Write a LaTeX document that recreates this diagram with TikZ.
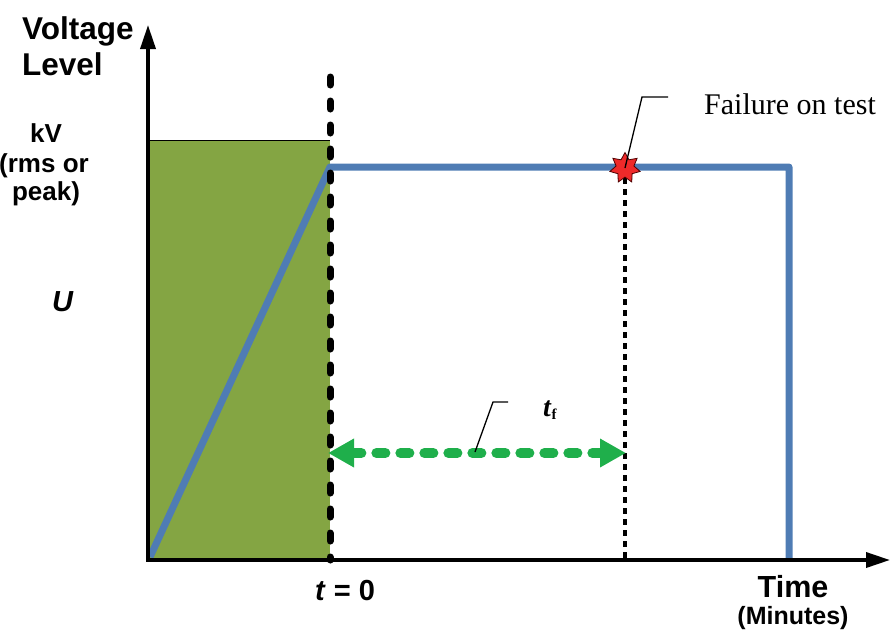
\documentclass[tikz,border=0pt]{standalone}
\usepackage{fontspec}
\setmainfont{Liberation Serif}
\setsansfont{Liberation Sans}
\usetikzlibrary{arrows.meta,shapes.geometric}
\definecolor{boxgreen}{HTML}{84A543}
\definecolor{lineblue}{HTML}{4F7CB4}
\definecolor{arrgreen}{HTML}{1FAF4B}
\definecolor{starred}{HTML}{EE2A2A}
\tikzset{
  axis/.style={line width=3.5pt,-{Triangle[length=24pt,width=15pt]}},
  profile/.style={line width=7pt,lineblue,line join=round},
  zeroline/.style={line width=7pt,line cap=round,dash pattern=on 8pt off 16pt},
  failline/.style={line width=4.5pt,dash pattern=on 6pt off 5pt},
  durarrow/.style={line width=10pt,arrgreen,line cap=round,dash pattern=on 9pt off 15pt,
    {Triangle[length=26pt,width=27pt]}-{Triangle[length=26pt,width=27pt]}},
  leader/.style={line width=1.3pt},
  lbl/.style={inner sep=0pt},
}
\begin{document}
\begin{tikzpicture}[x=1pt,y=-1pt]
\useasboundingbox (0,0) rectangle (890,632);
% green region
\fill[boxgreen] (148,140) rectangle (330,560);
\draw[line width=1pt] (148,140) -- (330,140);
% profile
\coordinate (p0) at (150,557);
\coordinate (p1) at (330,167);
\coordinate (p2) at (789,167);
\coordinate (p3) at (789,560);
\draw[profile] (p0) -- (p1) -- (p2) -- (p3);
% t=0 line
\coordinate (z0) at (330,77);
\coordinate (z1) at (330,560);
\draw[zeroline] (z0) -- (z1);
% failure line
\coordinate (f0) at (625,178);
\coordinate (f1) at (625,560);
\draw[failline] (f0) -- (f1);
% axes
\coordinate (o) at (148,560);
\coordinate (ytop) at (148,25);
\coordinate (xend) at (890,560);
\draw[axis] (o) -- (ytop);
\draw[axis] ([xshift=-1.75pt]o) -- (xend);
% duration arrow
\coordinate (d0) at (328,453);
\coordinate (d1) at (626,453);
\draw[durarrow] (d0) -- (d1);
% star
\node[star,star points=7,star point ratio=1.7,minimum size=31pt,inner sep=0pt,
  fill=starred,draw=black!70!red,line width=0.8pt] (star) at (625,168) {};
% leaders
\coordinate (la) at (642,97);
\coordinate (lb) at (668,97);
\draw[leader] (star.center) -- (la) -- (lb);
\coordinate (ta) at (475,452);
\coordinate (tb) at (493,402);
\coordinate (tc) at (508,402);
\draw[leader] (ta) -- (tb) -- (tc);
% texts
\node[lbl,anchor=base west,font=\fontsize{30}{34}\selectfont] (fail) at (704,114) {Failure on test};
\node[lbl,anchor=base west,font=\rmfamily\bfseries\fontsize{28}{28}\selectfont] (tf) at (543,416) {\textit{t}\raisebox{-3pt}{\fontsize{15}{15}\selectfont f}};
\node[lbl,anchor=base west,font=\sffamily\bfseries\fontsize{31.5}{34}\selectfont] (vl1) at (22,39) {Voltage};
\node[lbl,anchor=base west,font=\sffamily\bfseries\fontsize{31.5}{34}\selectfont] (vl2) at (22,75) {Level};
\node[lbl,anchor=base,font=\sffamily\bfseries\fontsize{26}{28}\selectfont] (kv1) at (46,142) {kV};
\node[lbl,anchor=base,font=\sffamily\bfseries\fontsize{26}{28}\selectfont] (kv2) at (44,172) {(rms or};
\node[lbl,anchor=base,font=\sffamily\bfseries\fontsize{26}{28}\selectfont] (kv3) at (46,200) {peak)};
\node[lbl,anchor=base west,font=\sffamily\bfseries\itshape\fontsize{29}{30}\selectfont] (u) at (52,311) {U};
\node[lbl,anchor=base west,font=\sffamily\bfseries\fontsize{29}{32}\selectfont] (t0) at (315,600) {\textit{t} = 0};
\node[lbl,anchor=base,font=\sffamily\bfseries\fontsize{30.5}{32}\selectfont] (time) at (793,597) {Time};
\node[lbl,anchor=base,font=\sffamily\bfseries\fontsize{25}{28}\selectfont] (min) at (793,624) {(Minutes)};
\end{tikzpicture}
\end{document}
